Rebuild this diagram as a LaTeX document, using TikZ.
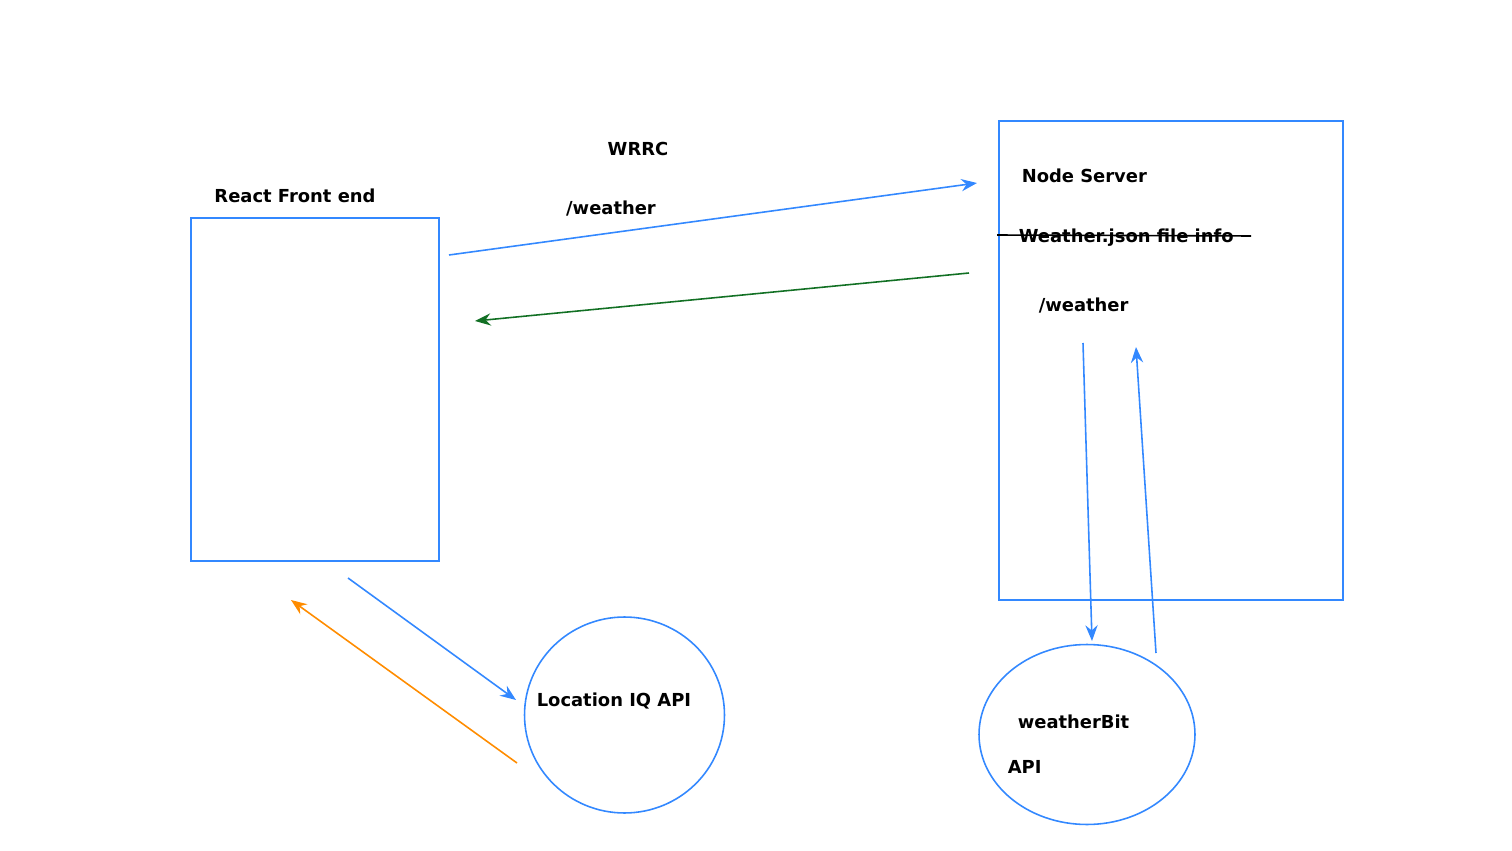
\documentclass[tikz,border=0pt]{standalone}
\usepackage{fontspec}
\setmainfont{DejaVu Sans}
\usetikzlibrary{calc, positioning, arrows.meta, shapes.geometric}

\definecolor{lineblue}{RGB}{51,136,255}
\definecolor{replygreen}{RGB}{18,112,36}
\definecolor{replyorange}{RGB}{255,140,0}

\begin{document}
\begin{tikzpicture}[
    x=0.02cm, y=-0.02cm,
    >={Stealth[length=9pt, width=7pt, inset=3pt]},
    line width=0.9pt,
    box/.style={draw=lineblue, rectangle, inner sep=0pt},
    api/.style={draw=lineblue, ellipse, inner sep=0pt},
    label/.style={font=\fontsize{10.2}{12}\selectfont\bfseries, inner sep=0pt},
    call/.style={->, draw=lineblue},
]
    \useasboundingbox (0,0) rectangle (1512,851);

    % Boxes
    \node[box, minimum width=4.96cm, minimum height=6.86cm] (front) at (315,389.5) {};
    \node[box, minimum width=6.88cm, minimum height=9.58cm] (server) at (1171,360.5) {};

    % APIs
    \node[api, minimum width=4cm, minimum height=3.92cm] (locapi) at (624.5,715) {};
    \node[api, minimum width=4.32cm, minimum height=3.6cm] (wbapi) at (1087,734.5) {};

    % Texts
    \node[label] (fronttitle) at (295,195.5) {React Front end};
    \node[label] (wrrc) at (638,148.5) {WRRC};
    \node[label] (route) at (611,208.5) {/weather};
    \node[label, anchor=west] (servertitle) at (1021,175.5) {Node Server};
    \node[label, anchor=west] (jsoninfo) at (1018,238) {Weather.json file info};
    \node[label, anchor=west] (serverroute) at (1038,305.5) {/weather};
    \node[label, anchor=west] (locname) at (536,700.5) {Location IQ API};
    \node[label, anchor=west] (wbname) at (1017,721.5) {weatherBit};
    \node[label, anchor=west] (wbsub) at (1007,766.5) {API};

    % Strike through
    \coordinate (strikeL) at (997,235);
    \coordinate (strikeR) at (1251,236);
    \draw[black] (strikeL) -- (strikeR);

    % Request / response
    \coordinate (reqA) at (449,255);
    \coordinate (reqB) at (977,183);
    \draw[call] (reqA) -- (reqB);

    \coordinate (resA) at (969,273);
    \coordinate (resB) at (475,321);
    \draw[->, replygreen] (resA) -- (resB);

    % Location IQ
    \coordinate (locA) at (348,578);
    \coordinate (locB) at (516,700);
    \draw[call] (locA) -- (locB);

    \coordinate (locC) at (517,763);
    \coordinate (locD) at (291,600);
    \draw[->, replyorange] (locC) -- (locD);

    % weatherBit
    \coordinate (wbA) at (1083,343);
    \coordinate (wbB) at (1092,641);
    \draw[call] (wbA) -- (wbB);

    \coordinate (wbC) at (1156,653);
    \coordinate (wbD) at (1136,347);
    \draw[call] (wbC) -- (wbD);

\end{tikzpicture}
\end{document}
